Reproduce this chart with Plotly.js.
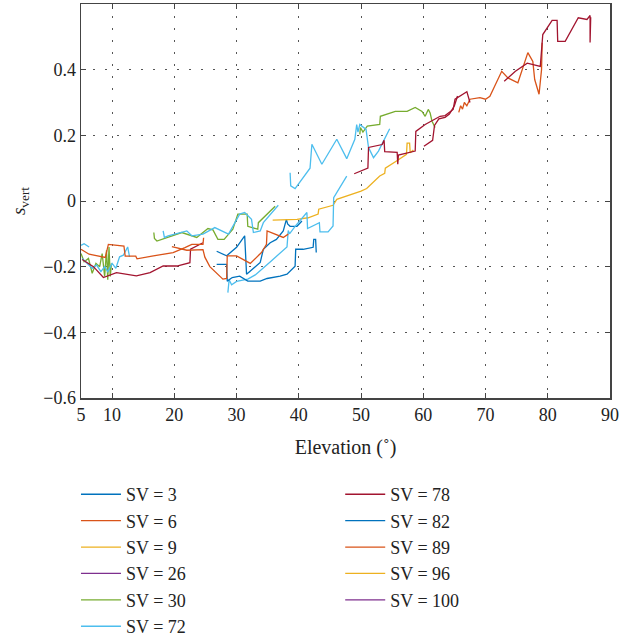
<!DOCTYPE html>
<html><head><meta charset="utf-8">
<script src="https://cdn.plot.ly/plotly-3.0.1.min.js"></script>
<style>body{margin:0;background:#fff}#c{width:635px;height:639px}</style>
</head><body><div id="c"></div>
<script>
const svNames = ["SV = 3","SV = 6","SV = 9","SV = 26","SV = 30","SV = 72","SV = 78","SV = 82","SV = 89","SV = 96","SV = 100"];
const svColors = ["#0072BD","#D95319","#EDB120","#7E2F8E","#77AC30","#4DBEEE","#A2142F","#0072BD","#D95319","#EDB120","#7E2F8E"];

const sv3x = [26.8,28.4,30.0,31.0,31.3,31.6,33.8,34.3,35.4,36.4,37.5,38.0,38.2,38.6,39.7,40.5];
const sv3y = [-0.153,-0.167,-0.141,-0.111,-0.106,-0.223,-0.187,-0.147,-0.127,-0.117,-0.091,-0.056,-0.07,-0.077,-0.077,-0.061];

const sv6x = [65.7,66.0,66.3,66.6,67.0,67.5,69.1,70.0,70.7,72.6,73.6,75.2,76.8,77.6,77.9,78.3,78.6,79.0,79.1];
const sv6y = [0.27,0.29,0.28,0.30,0.29,0.31,0.315,0.31,0.319,0.395,0.375,0.36,0.452,0.425,0.37,0.345,0.325,0.40,0.482];

const sv9x = [35.8,38.0,39.7,41.5,43.1,43.2,45.5,46.1,47.7,50.0,50.9,53.0,53.8,53.9,55.7,57.3,57.4,57.8,57.9,58.4];
const sv9y = [-0.058,-0.056,-0.056,-0.051,-0.04,-0.025,-0.013,0.005,0.015,0.03,0.038,0.076,0.084,0.10,0.122,0.142,0.176,0.176,0.147,0.155];

const sv26x = [null];
const sv26y = [null];

const sv30x = [5.0,5.5,6.2,6.8,7.4,8.0,8.4,8.8,9.1,9.3,9.5,9.7,9.9,null,
  16.7,16.8,17.2,18.8,21.2,23.6,25.4,26.2,27.0,28.0,29.4,30.2,31.7,31.8,33.4,33.5,34.9,36.2,null,
  49.8,49.9,50.3,51.0,53.0,53.1,55.5,57.4,58.7,59.8,60.3,60.8,61.1,61.4,61.9];
const sv30y = [-0.16,-0.185,-0.175,-0.22,-0.19,-0.2,-0.16,-0.23,-0.15,-0.24,-0.14,-0.23,-0.19,null,
  -0.096,-0.114,-0.122,-0.111,-0.096,-0.111,-0.084,-0.088,-0.117,-0.117,-0.086,-0.04,-0.04,-0.077,-0.086,-0.066,-0.04,-0.016,null,
  0.203,0.224,0.21,0.228,0.233,0.258,0.273,0.273,0.285,0.273,0.258,0.279,0.268,0.243,0.224];

const sv72x = [5.0,5.5,6.3,null,
  5.2,6.0,6.8,7.5,8.2,8.8,9.3,10.0,10.6,11.2,11.8,12.5,12.8,null,
  18.2,18.4,19.0,22.0,22.8,24.6,26.5,28.7,30.5,31.3,32.4,32.7,33.8,34.3,36.7,null,
  28.6,28.8,29.2,30.0,31.8,33.0,35.3,37.0,38.1,38.3,38.5,39.5,41.3,41.4,43.3,43.4,44.7,45.5,45.6,47.7,null,
  38.6,38.7,39.4,41.8,42.1,43.7,46.1,47.7,49.0,49.3,49.5,49.8,50.8,51.2,52.0,52.8,54.6];
const sv72y = [-0.135,-0.13,-0.14,null,
  -0.175,-0.19,-0.205,-0.195,-0.215,-0.2,-0.215,-0.19,-0.205,-0.17,-0.165,-0.14,-0.17,null,
  -0.091,-0.111,-0.106,-0.091,-0.106,-0.101,-0.081,-0.101,-0.04,-0.035,-0.056,-0.096,-0.091,-0.066,-0.013,null,
  -0.279,-0.24,-0.255,-0.245,-0.238,-0.225,-0.187,-0.16,-0.14,-0.09,-0.1,-0.075,-0.035,-0.084,-0.066,-0.094,-0.094,-0.076,0.01,0.076,null,
  0.086,0.046,0.038,0.10,0.173,0.112,0.188,0.129,0.188,0.233,0.21,0.233,0.218,0.163,0.132,0.152,0.22];

const sv78x = [5.2,7.0,8.6,10.7,13.9,16.1,18.2,20.4,22.5,22.6,24.6,null,
  48.9,51.1,51.2,53.4,53.7,53.8,55.8,55.9,56.0,58.7,58.8,60.3,62.7,63.5,64.8,65.1,67.0,67.5,null,
  60.1,61.5,61.8,62.5,63.5,64.2,65.0,65.5,null,
  73.0,74.8,76.7,78.8,79.2,80.7,81.5,81.6,82.8,84.9,86.3,86.8,86.8,86.9,86.8,86.9,86.8];
const sv78y = [-0.178,-0.2,-0.233,-0.218,-0.228,-0.218,-0.198,-0.198,-0.188,-0.147,-0.127,null,
  0.083,0.10,0.163,0.172,0.185,0.15,0.148,0.112,0.14,0.152,0.212,0.233,0.258,0.26,0.279,0.31,0.333,0.30,null,
  0.167,0.185,0.23,0.25,0.255,0.265,0.29,0.32,null,
  0.365,0.395,0.42,0.41,0.507,0.55,0.55,0.486,0.486,0.558,0.553,0.565,0.483,0.56,0.49,0.545,0.5];

const sv82x = [26.8,28.4,28.5,29.3,30.5,31.8,33.8,34.9,37.0,38.1,39.4,39.5,40.7,42.3,42.4,42.7,42.8];
const sv82y = [-0.193,-0.193,-0.244,-0.233,-0.229,-0.244,-0.244,-0.236,-0.229,-0.223,-0.199,-0.147,-0.147,-0.141,-0.117,-0.117,-0.157];

const sv89x = [5.0,6.3,8.9,9.4,11.9,12.1,13.8,14.0,16.4,18.2,19.8,21.7,22.8,24.6,24.7,null,
  19.6,22.0,24.6,24.9,25.7,27.8,28.4,28.5,30.0,32.2,34.0,34.8,34.9,37.5,38.3];
const sv89y = [-0.147,-0.162,-0.172,-0.132,-0.137,-0.168,-0.168,-0.176,-0.168,-0.162,-0.157,-0.142,-0.132,-0.132,-0.112,null,
  -0.139,-0.15,-0.148,-0.171,-0.2,-0.238,-0.236,-0.167,-0.167,-0.19,-0.157,-0.132,-0.091,-0.111,-0.101];

const sv96x = [null];
const sv96y = [null];
const sv100x = [null];
const sv100y = [null];

const xTicks = [5,10,20,30,40,50,60,70,80,90];
const yTicks = [-0.6,-0.4,-0.2,0,0.2,0.4];
const yTickText = ["\u22120.6","\u22120.4","\u22120.2","0","0.2","0.4"];

const allX = [sv3x,sv6x,sv9x,sv26x,sv30x,sv72x,sv78x,sv82x,sv89x,sv96x,sv100x];
const allY = [sv3y,sv6y,sv9y,sv26y,sv30y,sv72y,sv78y,sv82y,sv89y,sv96y,sv100y];

const traces = svNames.map((n,i)=>({
  type:'scatter', mode:'lines', name:n, x:allX[i], y:allY[i],
  line:{color:svColors[i], width:1.3},
  legend: i<6 ? 'legend' : 'legend2',
  legendgroup:'g'+i,
  connectgaps:false
}));

const F = "Liberation Serif, Times New Roman, serif";
const axisCommon = {
  showline:true, linecolor:'#444', linewidth:1.5, mirror:'ticks',
  ticks:'inside', ticklen:5, tickcolor:'#444', tickwidth:1,
  showgrid:true, gridcolor:'#555', gridwidth:1, griddash:'2px,10px',
  zeroline:false, tickfont:{family:F, size:18, color:'#222'}
};
const legendCommon = {
  font:{family:F, size:18, color:'#222'}, bgcolor:'rgba(0,0,0,0)',
  tracegroupgap:0, orientation:'v', xanchor:'left', yanchor:'top',
  yref:'container', itemwidth:40
};
const layout = {
  width:635, height:639,
  margin:{l:81, r:25, t:4, b:241},
  paper_bgcolor:'#fff', plot_bgcolor:'#fff',
  showlegend:true,
  xaxis:Object.assign({}, axisCommon, {
    range:[5,90], tickvals:xTicks, ticktext:xTicks.map(String),
    title:{text:'Elevation (\u02DA)', font:{family:F, size:20, color:'#222'}, standoff:16}
  }),
  yaxis:Object.assign({}, axisCommon, {
    range:[-0.6,0.6], tickvals:yTicks, ticktext:yTickText,
    title:{text:'<i>s</i><sub>vert</sub>', font:{family:F, size:19, color:'#222'}, standoff:12}
  }),
  legend:Object.assign({}, legendCommon, {x:-0.0095, y:0.255}),
  legend2:Object.assign({}, legendCommon, {x:0.49, y:0.255})
};
Plotly.newPlot('c', traces, layout, {displayModeBar:false, staticPlot:true});
</script></body></html>
